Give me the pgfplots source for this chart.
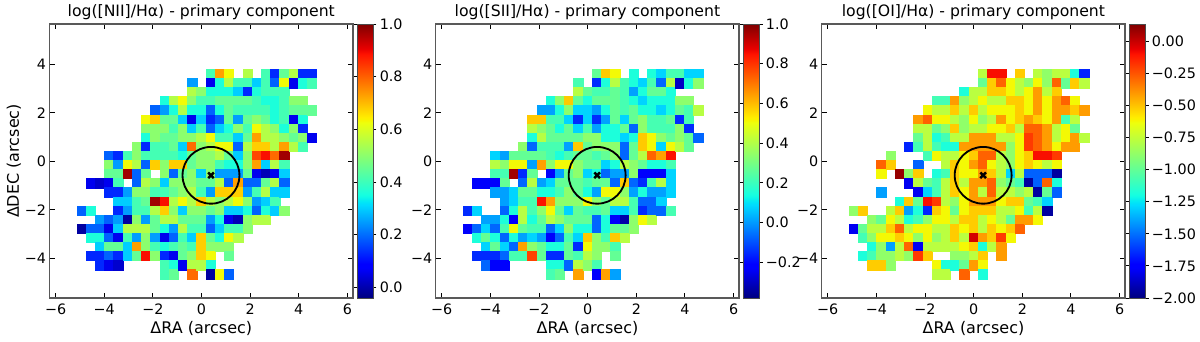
\documentclass[border=0pt]{standalone}
\usepackage{fontspec}
\setmainfont{DejaVu Sans}
\usepackage{pgfplots}
\usepackage{pgfplotstable}
\pgfplotsset{compat=1.18}

% 1 px of the reference = 0.6pt here
\pgfplotsset{
    colormap={mpljet}{
        rgb(0pt)=(0,0,0.5) rgb(110pt)=(0,0,1) rgb(125pt)=(0,0,1) rgb(340pt)=(0,0.86,1)
        rgb(350pt)=(0,0.9,0.968) rgb(375pt)=(0.08,1,0.887) rgb(640pt)=(0.935,1,0.048)
        rgb(650pt)=(0.968,0.963,0) rgb(660pt)=(1,0.926,0) rgb(890pt)=(1,0.074,0)
        rgb(910pt)=(0.909,0,0) rgb(1000pt)=(0.5,0,0)
    },
    panel/.style={
        clip mode=individual,
        scale only axis,
        width=182.1pt,
        height=164.4pt,
        anchor=south west,
        xmin=-6.25, xmax=6.23,
        ymin=-5.64, ymax=5.66,
        xtick={-6,-4,-2,0,2,4,6},
        xticklabels={−6,−4,−2,0,2,4,6},
        ytick={-4,-2,0,2,4},
        yticklabels={−4,−2,0,2,4},
        tick align=inside,
        tick pos=both,
        xticklabel pos=bottom,
        yticklabel pos=left,
        major tick length=3pt,
        tick style={black, line width=0.6pt},
        axis line style={black!65, line width=0.9pt},
        tick label style={font=\fontsize{8.6}{10}\selectfont},
        yticklabel style={xshift=1.5pt},
        label style={font=\fontsize{9.6}{11}\selectfont},
        title style={font=\fontsize{9.4}{11}\selectfont, yshift=-7pt},
        xlabel={ΔRA (arcsec)},
        xlabel style={yshift=3pt},
        colormap name=mpljet,
        colorbar right,
        unbounded coords=discard,
    },
    cb/.style={
        colorbar style={
            at={(parent axis.south east)},
            anchor=south west,
            xshift=-5.9pt,
            width=9.4pt,
            height=164.4pt,
            tick align=outside,
            major tick length=2pt,
            tick style={black, line width=0.5pt},
            axis line style={black!70, line width=0.5pt},
            yticklabel pos=right,
            tick label style={font=\fontsize{8.6}{10}\selectfont},
            yticklabel style={xshift=-1.5pt},
            #1
        },
    },
    cellmarks/.style={
        scatter, only marks, mark=square*, mark size=2.78pt,
        point meta=explicit,
        scatter/use mapped color={draw=mapped color, fill=mapped color, line width=0pt},
    },
}

% empty cells are nan in the table; adding nan to y drops the point
\newcommand{\cellmap}[1]{%
    \pgfplotsinvokeforeach{0,...,25}{
        \addplot[cellmarks] table[x expr={-4.927+0.3793*##1},
            y expr={\thisrow{y}+\thisrow{c##1}-\thisrow{c##1}}, meta=c##1] {#1};
    }
}
\newcommand{\nucleus}{%
    \draw[black, line width=1.1pt] (axis cs:0.39,-0.58) circle [radius=1.17];
    \addplot[only marks, mark=x, mark size=2.4pt, black, line width=1.5pt] coordinates {(0.39,-0.58)};
}

\pgfplotstableread{
y c0 c1 c2 c3 c4 c5 c6 c7 c8 c9 c10 c11 c12 c13 c14 c15 c16 c17 c18 c19 c20 c21 c22 c23 c24 c25
3.59 nan nan nan nan nan nan nan nan nan nan nan nan nan nan .41 .73 .63 nan .55 nan .41 .13 .45 .55 .13 .13
3.21 nan nan nan nan nan nan nan nan nan nan nan nan .25 nan .06 .36 .55 .41 .41 .30 .41 .19 .63 .06 .36 .41
2.84 nan nan nan nan nan nan nan nan nan nan nan nan .55 .50 .36 .36 .36 .30 .13 .36 .41 .41 .41 nan nan nan
2.46 nan nan nan nan nan nan nan nan nan .36 .55 .63 .50 .41 .41 .45 .45 .45 .45 .41 .36 .36 .41 .50 .50 nan
2.09 nan nan nan nan nan nan nan nan .19 .25 .36 .55 .36 .36 .19 .36 .45 .41 .41 .41 .41 .36 .41 .45 .45 .45
1.71 nan nan nan nan nan nan nan .63 .68 .45 .45 .30 .06 .30 .13 .19 .45 .25 .45 .50 .45 .36 .41 .06 .36 nan
1.34 nan nan nan nan nan nan nan .50 .50 .50 .41 .50 .30 .41 .19 .30 .36 .50 .41 .63 .55 .50 .36 .50 .13 nan
0.96 nan nan nan nan nan nan nan .36 .50 .45 .45 .50 .50 .55 .63 .41 .41 .30 .45 .73 .55 .55 .50 .45 .50 .06
0.59 nan nan nan nan nan nan .50 .13 .41 .41 .45 .30 .79 .50 .55 .63 .63 .19 .55 .68 .68 .55 .73 .55 .41 nan
0.21 nan nan nan .19 .13 .41 .50 .41 .41 .41 .41 .36 .45 .50 .50 .55 .45 .30 .50 .83 .89 .79 .97 nan nan nan
-0.17 nan nan nan .50 .25 .63 .55 .19 .68 .50 .68 .68 .45 .50 .50 .41 .36 .36 .50 .73 .30 .55 .41 nan nan nan
-0.54 nan nan nan .45 .45 .97 .19 .45 nan .50 .19 .45 .50 .30 .50 .25 .25 .25 .45 .06 .01 .06 .30 nan nan nan
-0.92 nan .06 .03 .06 .41 nan .19 .55 .50 .30 .50 .50 .50 .45 .45 .55 .19 .73 .19 .19 .45 .55 .19 nan nan nan
-1.29 nan nan nan .13 .13 .25 .50 .50 .41 .41 .45 .50 .55 .41 .25 .68 .68 .68 .25 .41 .55 .30 .30 nan nan nan
-1.67 nan nan nan nan .30 .30 .41 .45 .97 .89 .55 .63 .55 .68 .55 .50 .55 .63 .50 .25 .30 .41 nan nan nan nan
-2.04 .19 .36 nan nan .13 .25 .41 .41 .55 .68 .50 .30 .50 .50 .45 .50 .30 .30 .36 .19 .36 .30 .50 nan nan nan
-2.42 nan nan .25 .19 .25 -.01 .50 .25 .45 .55 .55 .45 .45 .45 .25 .36 .06 .01 .50 .55 .55 nan nan nan nan nan
-2.79 -.01 .19 .19 .06 .30 .55 .55 .55 .45 .36 .25 .55 .41 .41 .19 .30 .41 .41 .50 nan nan nan nan nan nan nan
-3.17 nan .36 .36 .19 .06 .41 .25 .50 .25 .06 .19 .41 .30 .68 .45 .36 .63 .55 nan nan nan nan nan nan nan nan
-3.55 nan nan .30 .45 .45 .30 .73 .50 .41 .36 .41 .45 .41 .68 .50 .50 .50 nan nan nan nan nan nan nan nan nan
-3.92 nan .13 .13 .19 .13 .30 .45 .89 .50 .13 .06 .45 .50 .68 .63 nan .45 nan nan nan nan nan nan nan nan nan
-4.30 nan nan .13 .06 .03 nan nan nan nan .41 .36 .06 .55 .55 .36 nan nan nan nan nan nan nan nan nan nan nan
-4.67 nan nan nan nan nan nan nan nan nan .41 .45 nan .79 nan -.01 .63 .19 nan nan nan nan nan nan nan nan nan
}\tabNII

\pgfplotstableread{
y c0 c1 c2 c3 c4 c5 c6 c7 c8 c9 c10 c11 c12 c13 c14 c15 c16 c17 c18 c19 c20 c21 c22 c23 c24 c25
3.59 nan nan nan nan nan nan nan nan nan nan nan nan nan nan .27 .58 .51 nan .15 nan .15 .08 .22 .22 .08 .08
3.21 nan nan nan nan nan nan nan nan nan nan nan nan .22 nan -.15 .15 .41 .22 .15 .08 .22 -.07 .41 -.30 .15 .34
2.84 nan nan nan nan nan nan nan nan nan nan nan nan .41 .27 .22 .22 .27 .22 .01 .15 .27 .27 .15 nan nan nan
2.46 nan nan nan nan nan nan nan nan nan .15 .34 .58 .27 .15 .27 .27 .27 .22 .15 .08 .15 .15 .15 .34 .34 nan
2.09 nan nan nan nan nan nan nan nan .01 .01 .15 .34 .08 .08 .01 .15 .27 .22 .27 .15 .15 .08 .15 .27 .22 .41
1.71 nan nan nan nan nan nan nan .58 .58 .22 .22 .08 -.15 .08 -.15 .01 .27 .08 .27 .34 .22 .22 .27 -.15 .22 nan
1.34 nan nan nan nan nan nan nan .41 .34 .27 .15 .27 .08 .22 .01 .15 .15 .27 -.07 .34 .22 .22 .22 .34 -.15 nan
0.96 nan nan nan nan nan nan nan .15 .41 .27 .27 .27 .27 .34 .34 .15 .15 .08 .15 .58 .51 .34 .27 .34 .27 -.07
0.59 nan nan nan nan nan nan .34 -.07 .22 .22 .22 .01 .58 .27 .34 .34 .34 -.07 .27 .58 .51 .08 .51 .41 .27 nan
0.21 nan nan nan .08 .01 .27 .27 .27 .27 .22 .15 .22 .27 .27 .22 .27 .34 -.07 .27 .41 .73 .64 .85 nan nan nan
-0.17 nan nan nan .41 .34 .51 .51 .01 .64 .34 .51 .51 .34 .27 .27 .08 .15 .41 .34 .27 .15 .15 .22 nan nan nan
-0.54 nan nan nan .22 .22 .96 -.15 .27 nan -.23 .01 .27 .34 .08 .15 -.07 .01 .01 .34 -.23 -.23 -.23 .08 nan nan nan
-0.92 nan -.23 -.23 -.23 .27 nan -.07 .41 .01 .08 .27 .27 .27 .22 .27 .27 -.07 .58 -.07 -.15 .22 .41 .08 nan nan nan
-1.29 nan nan nan .01 .01 .08 .27 .27 .15 .15 .22 .34 .27 .15 .01 .51 .51 .34 .01 .15 .01 .01 .08 nan nan nan
-1.67 nan nan nan nan .01 .08 .22 .22 .85 .64 .34 .34 .34 .51 .34 .27 .41 .41 .22 -.07 -.07 .08 nan nan nan nan
-2.04 -.15 .08 nan nan -.07 .15 .41 .22 .34 .51 .27 .08 .27 .22 .22 .27 .08 .08 .22 -.15 -.07 -.07 .22 nan nan nan
-2.42 nan nan .01 .01 .15 -.23 .41 .15 .27 .41 .34 .27 .27 .27 -.07 .15 -.23 -.33 .34 .51 .41 nan nan nan nan nan
-2.79 -.23 -.07 .08 -.07 .22 .51 .27 .22 .22 -.07 .08 .34 .15 .15 -.07 .15 .27 .27 .34 nan nan nan nan nan nan nan
-3.17 nan .15 .27 .15 -.07 .15 .01 .08 .01 -.23 -.07 .22 .08 .58 .34 .22 .58 .41 nan nan nan nan nan nan nan nan
-3.55 nan nan .08 .27 .08 -.07 .64 .34 .27 .15 .15 .27 -.15 .51 .34 .34 .22 nan nan nan nan nan nan nan nan nan
-3.92 nan -.15 -.15 -.15 -.07 .22 .22 .78 .27 -.15 -.15 .27 .22 .41 .34 nan .27 nan nan nan nan nan nan nan nan nan
-4.30 nan nan -.07 -.23 -.23 nan nan nan nan .15 .15 -.07 .41 .34 .22 nan nan nan nan nan nan nan nan nan nan nan
-4.67 nan nan nan nan nan nan nan nan nan .22 .27 nan .64 nan -.23 .64 .01 nan nan nan nan nan nan nan nan nan
}\tabSII

\pgfplotstableread{
y c0 c1 c2 c3 c4 c5 c6 c7 c8 c9 c10 c11 c12 c13 c14 c15 c16 c17 c18 c19 c20 c21 c22 c23 c24 c25
3.59 nan nan nan nan nan nan nan nan nan nan nan nan nan nan -.77 -.09 -.09 nan -.52 nan -.77 -.88 -.77 -.77 -1.18 -1.66
3.21 nan nan nan nan nan nan nan nan nan nan nan nan nan nan -.99 -.52 -.28 -.62 -.77 -.88 -.62 -.88 -.28 -.99 -.52 -.77
2.84 nan nan nan nan nan nan nan nan nan nan nan nan -1.18 -.77 -.77 -.52 -.52 -.62 -.77 -.62 -.41 -.77 -.52 nan nan nan
2.46 nan nan nan nan nan nan nan nan nan -1.08 -1.08 -.41 -.88 -.77 -.62 -.77 -.77 -.52 -.52 -.62 -.41 -.62 -.41 -.28 -.62 nan
2.09 nan nan nan nan nan nan nan nan -.62 -.77 -.77 -.52 -.77 -.52 -.77 -.62 -.62 -.62 -.52 -.62 -.41 -.62 -.41 -.41 -.52 -.41
1.71 nan nan nan nan nan nan nan -.41 -.28 -.62 -.62 -.77 -.88 -.62 -.88 -.77 -.41 -.62 -.52 -.41 -.52 -.62 -.41 -1.08 -.77 nan
1.34 nan nan nan nan nan nan nan -.77 -.77 -.99 -.88 -.52 -.88 -.77 -.77 -.62 -.62 -.52 -.77 -.28 -.28 -.41 -.77 -.62 -.99 nan
0.96 nan nan nan nan nan nan nan -.99 -.77 -1.18 -1.08 -.77 -.77 -.41 -.41 -.41 -.77 -.77 -.62 -.19 -.28 -.41 -.77 -.62 -.41 -.77
0.59 nan nan nan nan nan nan -1.66 -1.08 -.77 -1.08 -1.18 -1.18 -.41 -.41 -.41 -.41 -.41 -.88 -.62 -.19 -.28 -.41 -.62 -.41 -.41 nan
0.21 nan nan nan nan -.88 nan nan nan -1.08 -.62 -.77 -.77 -.62 -.52 -.28 -.28 -.77 -.88 -.62 -.52 -.09 -.09 -.19 nan nan nan
-0.17 nan nan nan -.28 -.52 nan nan -1.53 nan nan -.77 -.52 -.62 -.41 -.28 -.62 -.77 -.88 -.62 -.52 -.62 -.77 -.62 nan nan nan
-0.54 nan nan nan -.62 nan .09 -.88 -.52 nan -1.18 -1.08 -.52 -.62 -.62 -.41 -.52 -.77 -1.29 -.77 -1.53 -1.53 -1.53 -1.94 nan nan nan
-0.92 nan nan nan nan nan nan -1.79 -.77 -.99 -1.08 -.77 -.52 -.77 -.41 -.41 -.28 -.88 -.99 -1.08 -1.94 -1.53 -.28 -1.18 nan nan nan
-1.29 nan nan nan -1.40 nan nan nan -1.79 -1.29 -1.08 -.77 -.52 -.62 -.41 -.77 -.28 -.77 -.77 -.88 -.77 -1.94 -.99 -1.53 nan nan nan
-1.67 nan nan nan nan nan -1.18 -.52 -.99 -.09 -.19 -.77 -.88 -.62 -.41 -.41 -.41 -.62 -.52 -.52 -.99 -1.08 -1.29 nan nan nan nan
-2.04 -.88 -.52 nan nan -.77 -.52 -1.40 -1.18 -1.66 -.52 -.62 -.99 -.62 -.52 -.52 -.52 -.77 -.77 -.62 -1.08 -.77 -1.94 nan nan nan nan
-2.42 nan nan -.88 -.99 -.62 -.77 -1.18 -1.08 -.88 -.62 -.62 -.77 -.52 -.52 -.77 -.62 -.77 -.99 -.41 -.41 -.62 nan nan nan nan nan
-2.79 -1.79 -.99 -.77 -.77 -.52 -.28 -.77 -.62 -.62 -.77 -.77 -.52 -.62 -.52 -.77 -.52 -.62 -.52 -.28 nan nan nan nan nan nan nan
-3.17 nan -1.08 -.88 -.62 -.62 -.52 -.62 -.88 -.62 -.88 -.77 -.52 -.77 -.02 -.41 -.52 -.19 -.62 nan nan nan nan nan nan nan nan
-3.55 nan nan -1.18 -.88 -1.40 -.77 -.28 -1.79 -.77 -.77 -.77 -.77 -.62 -.52 -1.18 -.77 -.41 nan nan nan nan nan nan nan nan nan
-3.92 nan -1.18 -1.08 -.88 -.88 -.77 -.88 -.19 -.52 nan nan -.88 -.88 -.77 -.52 nan -.41 nan nan nan nan nan nan nan nan nan
-4.30 nan nan -.52 -.52 -.88 nan nan nan nan -.62 -1.18 -1.18 -.99 -.41 -.62 nan nan nan nan nan nan nan nan nan nan nan
-4.67 nan nan nan nan nan nan nan nan nan -.77 -.77 nan -.28 nan -1.18 nan nan nan nan nan nan nan nan nan nan nan
}\tabOI

\begin{document}
\begin{tikzpicture}
\useasboundingbox (0,0) rectangle (720pt,204.6pt);

\begin{axis}[
    panel,
    at={(29.7pt,25.8pt)},
    title={log([NII]/Hα) - primary component},
    ylabel={ΔDEC (arcsec)},
    ylabel style={yshift=-4.5pt},
    point meta min=-0.04, point meta max=1.0,
    cb={ytick={0,0.2,0.4,0.6,0.8,1.0}, yticklabels={0.0,0.2,0.4,0.6,0.8,1.0}},
]
\cellmap{\tabNII}
\nucleus
\end{axis}

\begin{axis}[
    panel,
    at={(261.4pt,25.8pt)},
    title={log([SII]/Hα) - primary component},
    point meta min=-0.38, point meta max=1.0,
    cb={ytick={-0.2,0,0.2,0.4,0.6,0.8,1.0}, yticklabels={−0.2,0.0,0.2,0.4,0.6,0.8,1.0}},
]
\cellmap{\tabSII}
\nucleus
\end{axis}

\begin{axis}[
    panel,
    at={(493pt,25.8pt)},
    title={log([OI]/Hα) - primary component},
    point meta min=-2.0, point meta max=0.134,
    cb={ytick={-2,-1.75,-1.5,-1.25,-1,-0.75,-0.5,-0.25,0},
        yticklabels={−2.00,−1.75,−1.50,−1.25,−1.00,−0.75,−0.50,−0.25,0.00}},
]
\cellmap{\tabOI}
\nucleus
\end{axis}
\end{tikzpicture}
\end{document}
